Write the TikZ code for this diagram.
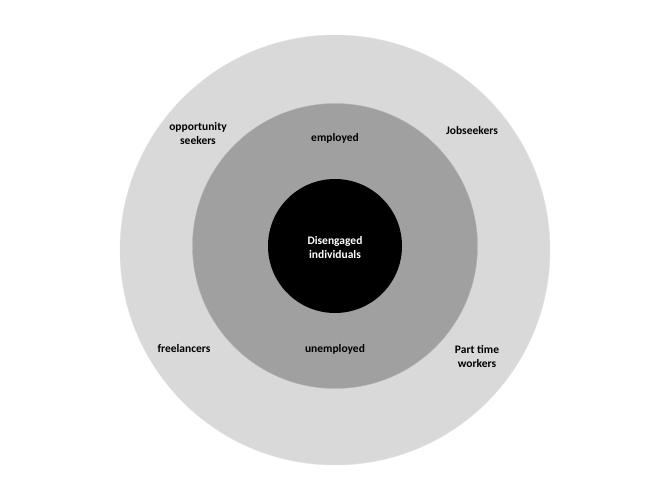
\documentclass[tikz,border=0pt]{standalone}
\usepackage{fontspec}
\setmainfont{Carlito}
\begin{document}
\begin{tikzpicture}[x=1pt,y=-1pt,
  lbl/.style={font=\bfseries\fontsize{11.5}{14}\selectfont, align=center, inner sep=0pt, text=black},
  ring/.style={circle, inner sep=0pt}]
\useasboundingbox (0,0) rectangle (670,500);
\fill[white] (0,0) rectangle (670,500);
\node[ring, fill={rgb,255:red,217;green,217;blue,217}, draw={rgb,255:red,225;green,225;blue,225}, minimum size=430pt] (outer) at (335,250) {};
\node[ring, fill={rgb,255:red,160;green,160;blue,160}, draw={rgb,255:red,180;green,180;blue,180}, minimum size=285pt] (middle) at (335,246) {};
\node[ring, fill=black, minimum size=134pt] (inner) at (335,246) {};
\node[lbl, text=white] (dis) at (335,248) {Disengaged\\individuals};
\node[lbl] (opp) at (198,134) {opportunity\\seekers};
\node[lbl] (emp) at (335,138) {employed};
\node[lbl] (job) at (472,131) {Jobseekers};
\node[lbl] (free) at (184,349) {freelancers};
\node[lbl] (unemp) at (335,349) {unemployed};
\node[lbl] (part) at (477,356) {Part time\\workers};
\end{tikzpicture}
\end{document}
